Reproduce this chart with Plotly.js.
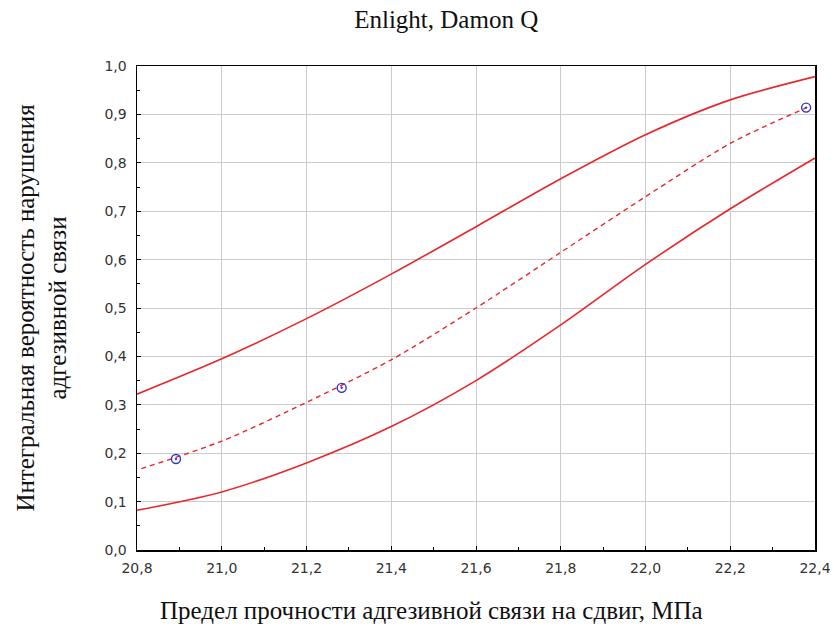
<!DOCTYPE html>
<html>
<head>
<meta charset="utf-8">
<script src="https://cdn.plot.ly/plotly-3.0.1.min.js"></script>
<style>html,body{margin:0;padding:0;background:#fff;}#chart{width:834px;height:633px;}</style>
</head>
<body>
<div id="chart"></div>
<script>
const xCurve = [20.8, 21.0, 21.2, 21.4, 21.6, 21.8, 22.0, 22.2, 22.4];
const upperBand = [0.322, 0.395, 0.478, 0.570, 0.668, 0.767, 0.858, 0.930, 0.978];
const lowerBand = [0.082, 0.120, 0.180, 0.255, 0.350, 0.465, 0.590, 0.705, 0.810];
const xFit = [20.81, 21.0, 21.2, 21.4, 21.6, 21.8, 22.0, 22.2, 22.38];
const fitted = [0.168, 0.225, 0.305, 0.393, 0.500, 0.615, 0.730, 0.840, 0.914];
const xObs = [20.892, 21.283, 22.379];
const yObs = [0.188, 0.335, 0.914];
const xTitleText = 'Предел прочности адгезивной связи на сдвиг, МПа';
const yTitleText = 'Интегральная вероятность нарушения<br>адгезивной связи';

const red = '#e8262a';
const traces = [
  {x: xCurve, y: upperBand, mode: 'lines', line: {color: red, width: 1.6, shape: 'spline', smoothing: 0.8}, hoverinfo: 'skip'},
  {x: xCurve, y: lowerBand, mode: 'lines', line: {color: red, width: 1.6, shape: 'spline', smoothing: 0.8}, hoverinfo: 'skip'},
  {x: xFit, y: fitted, mode: 'lines', line: {color: red, width: 1.4, dash: '5px,4px', shape: 'spline', smoothing: 0.8}},
  {x: xObs, y: yObs, mode: 'markers', marker: {symbol: 'circle-open-dot', size: 9, color: '#3434c8', line: {width: 1.4}}}
];

const tickFont = {family: 'DejaVu Sans', size: 14, color: '#333'};
const titleFont = {family: 'Liberation Serif', size: 25, color: '#111'};

const layout = {
  width: 834, height: 633,
  margin: {l: 137, r: 19, t: 66, b: 83},
  paper_bgcolor: '#fff', plot_bgcolor: '#fff',
  separators: ',.',
  showlegend: false,
  title: {text: 'Enlight, Damon Q', font: {family: 'Liberation Serif', size: 25, color: '#111'}, x: 0.535, xanchor: 'center', y: 0.969, yanchor: 'middle'},
  xaxis: {
    range: [20.8, 22.4], dtick: 0.2, tick0: 20.8, tickformat: '.1f',
    showline: true, linecolor: '#000', linewidth: 1.5, mirror: true,
    ticks: 'inside', ticklen: 4, tickcolor: '#000',
    minor: {ticks: 'inside', dtick: 0.1, ticklen: 3, tickcolor: '#000', showgrid: false},
    showgrid: true, gridcolor: '#cccccc', gridwidth: 1, zeroline: false,
    tickfont: tickFont, ticklabelstandoff: 5
  },
  yaxis: {
    range: [0, 1], dtick: 0.1, tick0: 0, tickformat: '.1f',
    showline: true, linecolor: '#000', linewidth: 1.5, mirror: true,
    ticks: 'inside', ticklen: 4, tickcolor: '#000',
    minor: {ticks: 'inside', dtick: 0.05, ticklen: 3, tickcolor: '#000', showgrid: false},
    showgrid: true, gridcolor: '#cccccc', gridwidth: 1, zeroline: false,
    tickfont: tickFont, ticklabelstandoff: 6,
    title: {text: yTitleText, font: titleFont, standoff: 30}
  },
  annotations: [
    {text: xTitleText, xref: 'paper', yref: 'paper', x: 0.434, y: -0.125, xanchor: 'center', yanchor: 'middle', showarrow: false, font: titleFont}
  ]
};

Plotly.newPlot('chart', traces, layout, {displayModeBar: false, staticPlot: true});
</script>
</body>
</html>
